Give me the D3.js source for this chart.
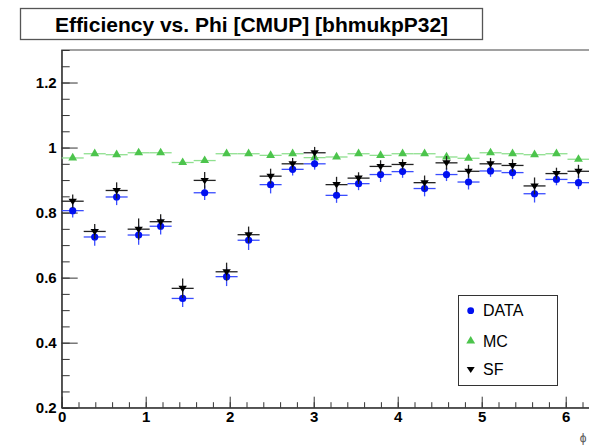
<!DOCTYPE html>
<html><head><meta charset="utf-8">
<script src="https://cdn.jsdelivr.net/npm/d3@7"></script>
<style>body{margin:0;background:#fff;overflow:hidden}svg{display:block}</style>
</head><body>
<svg id="c" width="589" height="446"></svg>
<script>
// ---- data ----
const phiCenters = [0.131,0.393,0.654,0.916,1.178,1.440,1.702,1.963,2.225,2.487,2.749,3.011,3.272,3.534,3.796,4.058,4.320,4.581,4.843,5.105,5.367,5.629,5.890,6.152];
const binHalfWidth = 0.131;
const dataVals = [0.806,0.725,0.848,0.731,0.758,0.536,0.861,0.603,0.715,0.886,0.933,0.950,0.853,0.889,0.917,0.926,0.874,0.917,0.894,0.928,0.923,0.858,0.902,0.892];
const dataErr  = [0.021,0.027,0.025,0.030,0.025,0.026,0.022,0.029,0.030,0.027,0.019,0.018,0.023,0.020,0.023,0.019,0.024,0.020,0.023,0.018,0.020,0.027,0.018,0.020];
const mcVals   = [0.968,0.981,0.978,0.984,0.984,0.954,0.960,0.981,0.981,0.976,0.981,0.969,0.971,0.981,0.976,0.981,0.981,0.971,0.967,0.984,0.981,0.978,0.981,0.964];
const mcErr    = [0.003,0.003,0.003,0.003,0.003,0.003,0.003,0.003,0.003,0.003,0.003,0.003,0.003,0.003,0.003,0.003,0.003,0.003,0.003,0.003,0.003,0.003,0.003,0.003];
const sfVals   = [0.835,0.742,0.868,0.749,0.772,0.567,0.899,0.618,0.732,0.912,0.950,0.984,0.886,0.906,0.942,0.948,0.892,0.953,0.927,0.950,0.945,0.882,0.920,0.927];
const sfErr    = [0.021,0.023,0.025,0.033,0.023,0.030,0.026,0.028,0.025,0.023,0.018,0.018,0.024,0.018,0.019,0.016,0.022,0.021,0.020,0.018,0.019,0.026,0.018,0.020];
const xTickLabels = [0,1,2,3,4,5,6];
const yTickLabels = [0.2,0.4,0.6,0.8,1.0,1.2];
const legendLabels = ["DATA","MC","SF"];
const titleText = "Efficiency vs. Phi [CMUP] [bhmukpP32]";
const xAxisTitle = "\u03d5";

// ---- layout ----
const L = 61.7, R = 589.5, T = 50, B = 407.7;
const svg = d3.select("#c");
const x = d3.scaleLinear().domain([0, 2*Math.PI]).range([L, R]);
const y = d3.scaleLinear().domain([0.2, 1.3]).range([B, T]);
const font = "'Liberation Sans', Arial, Helvetica, sans-serif";

// frame
svg.append("rect").attr("x", L).attr("y", T).attr("width", R-L).attr("height", B-T)
  .attr("fill", "none").attr("stroke", "#444").attr("stroke-width", 1);

// minor ticks
const yMinor = d3.range(0.2, 1.3001, 0.05).map(v => +v.toFixed(2));
const xMinor = d3.range(0, 6.2001, 0.2).map(v => +v.toFixed(1));
svg.append("g").attr("transform", `translate(${L},0)`)
  .call(d3.axisLeft(y).tickValues(yMinor).tickSizeInner(-8).tickSizeOuter(0).tickFormat(""))
  .call(g => g.selectAll("line").attr("stroke", "#333"))
  .call(g => g.select(".domain").attr("stroke", "#222"));
svg.append("g").attr("transform", `translate(0,${B})`)
  .call(d3.axisBottom(x).tickValues(xMinor).tickSizeInner(-5.5).tickSizeOuter(0).tickFormat(""))
  .call(g => g.selectAll("line").attr("stroke", "#333"))
  .call(g => g.select(".domain").attr("stroke", "#222"));

// major ticks + labels
const yAx = svg.append("g").attr("transform", `translate(${L},0)`)
  .call(d3.axisLeft(y).tickValues(yTickLabels).tickSizeInner(-16).tickSizeOuter(0).tickPadding(5)
    .tickFormat(d => d === 1 ? "1" : d3.format(".1f")(d)));
yAx.select(".domain").remove();
yAx.selectAll("line").attr("stroke", "#333");
yAx.selectAll("text").attr("font-family", font).attr("font-weight", "bold").attr("font-size", 15).attr("fill", "#000");

const xAx = svg.append("g").attr("transform", `translate(0,${B})`)
  .call(d3.axisBottom(x).tickValues(xTickLabels).tickSizeInner(-11).tickSizeOuter(0).tickPadding(4)
    .tickFormat(d3.format("d")));
xAx.select(".domain").remove();
xAx.selectAll("line").attr("stroke", "#333");
xAx.selectAll("text").attr("font-family", font).attr("font-weight", "bold").attr("font-size", 15).attr("fill", "#000");

svg.append("text").attr("x", 583).attr("y", 442).attr("text-anchor", "middle")
  .attr("font-family", font).attr("font-size", 12).attr("fill", "#555").text(xAxisTitle);

// ---- series ----
function errorBars(vals, errs, color, width) {
  const g = svg.append("g").attr("stroke", color).attr("stroke-width", width);
  vals.forEach((v, i) => {
    g.append("line").attr("x1", x(phiCenters[i]-binHalfWidth)).attr("x2", x(phiCenters[i]+binHalfWidth))
      .attr("y1", y(v)).attr("y2", y(v));
    g.append("line").attr("x1", x(phiCenters[i])).attr("x2", x(phiCenters[i]))
      .attr("y1", y(v-errs[i])).attr("y2", y(v+errs[i]));
  });
}
const triUp = d3.symbol().type(d3.symbolTriangle).size(34);
function triDownPath(cx, cy, s) {
  return `M${cx-s},${cy-s*0.6}L${cx+s},${cy-s*0.6}L${cx},${cy+s*0.9}Z`;
}

// MC
errorBars(mcVals, mcErr, "#8fe08f", 1.3);
svg.append("g").selectAll("path").data(mcVals).join("path")
  .attr("d", triUp).attr("transform", (d, i) => `translate(${x(phiCenters[i])},${y(d)})`)
  .attr("fill", "#4cc44c");
// DATA
errorBars(dataVals, dataErr, "#3a4dff", 1.3);
svg.append("g").selectAll("circle").data(dataVals).join("circle")
  .attr("cx", (d, i) => x(phiCenters[i])).attr("cy", d => y(d)).attr("r", 3.6)
  .attr("fill", "#0010f0");
// SF
errorBars(sfVals, sfErr, "#222", 1.3);
svg.append("g").selectAll("path").data(sfVals).join("path")
  .attr("d", (d, i) => triDownPath(x(phiCenters[i]), y(d), 4.2))
  .attr("fill", "#000");

// ---- legend ----
const lg = svg.append("g");
lg.append("rect").attr("x", 458.5).attr("y", 295.5).attr("width", 99).attr("height", 90)
  .attr("fill", "#fff").attr("stroke", "#333").attr("stroke-width", 1);
const legY = [310.7, 341, 369.3];
lg.append("circle").attr("cx", 470.7).attr("cy", legY[0]).attr("r", 3.4).attr("fill", "#0010f0");
lg.append("path").attr("d", triUp).attr("transform", `translate(470.7,${legY[1]})`).attr("fill", "#4cc44c");
lg.append("path").attr("d", triDownPath(470.7, legY[2], 4)).attr("fill", "#000");
legendLabels.forEach((t, i) => {
  lg.append("text").attr("x", 483).attr("y", legY[i]).attr("dy", "0.36em")
    .attr("font-family", font).attr("font-size", 16).attr("fill", "#000").text(t);
});

// ---- title ----
svg.append("rect").attr("x", 20.5).attr("y", 8.5).attr("width", 462).attr("height", 31)
  .attr("fill", "#fff").attr("stroke", "#555").attr("stroke-width", 1.3);
svg.append("text").attr("x", 251.5).attr("y", 24.5).attr("dy", "0.36em").attr("text-anchor", "middle")
  .attr("font-family", font).attr("font-weight", "bold").attr("font-size", 21).attr("fill", "#000").text(titleText);
</script>
</body></html>
